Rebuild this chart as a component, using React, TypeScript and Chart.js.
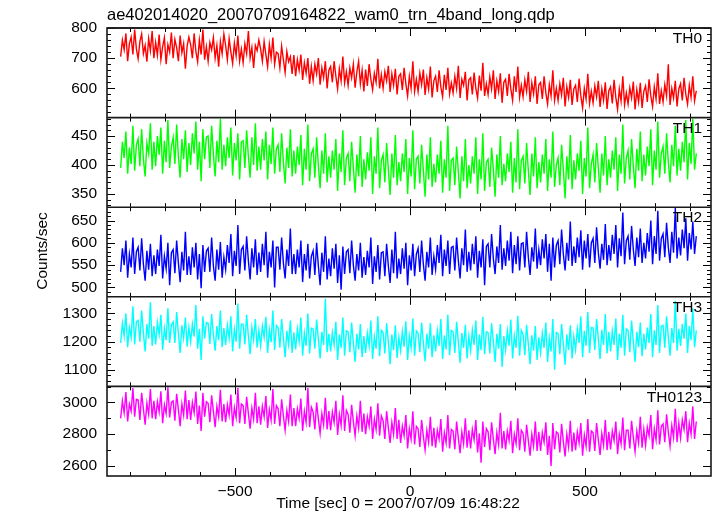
import { useEffect, useRef } from "react";
import { Chart, registerables } from "chart.js";

Chart.register(...registerables);

// ---- data (bins every 5 s starting at -827 s) ----
const T_START = -827;
const T_STEP = 5;

const TH0 = [
  705, 760, 728, 782, 690, 748, 770, 712, 795, 730,
  698, 755, 780, 715, 742, 688, 765, 725, 790, 700,
  752, 710, 778, 695, 738, 768, 680, 745, 720, 785,
  700, 762, 735, 690, 775, 718, 748, 665, 740, 770,
  745, 700, 782, 722, 688, 760, 712, 795, 695, 738,
  690, 752, 728, 768, 700, 742, 672, 755, 715, 780,
  742, 695, 765, 720, 682, 750, 708, 775, 690, 730,
  685, 748, 715, 790, 700, 735, 668, 742, 725, 760,
  730, 690, 755, 712, 672, 745, 700, 768, 680, 720,
  715, 668, 740, 695, 652, 722, 688, 705, 648, 710,
  640, 695, 660, 712, 628, 685, 650, 700, 615, 672,
  625, 680, 648, 700, 612, 668, 635, 690, 600, 660,
  672, 620, 690, 640, 598, 665, 625, 705, 618, 655,
  610, 668, 635, 680, 602, 655, 690, 615, 660, 590,
  662, 608, 680, 630, 595, 650, 620, 698, 600, 645,
  600, 655, 625, 675, 588, 648, 610, 665, 580, 640,
  648, 595, 668, 615, 575, 640, 600, 690, 590, 630,
  590, 650, 612, 662, 578, 635, 598, 672, 570, 625,
  640, 588, 660, 605, 572, 645, 595, 668, 582, 618,
  585, 640, 600, 675, 568, 630, 610, 655, 560, 628,
  635, 580, 652, 600, 568, 642, 592, 685, 575, 615,
  580, 638, 598, 660, 565, 625, 590, 650, 552, 620,
  630, 575, 648, 598, 560, 640, 588, 672, 570, 610,
  572, 628, 590, 655, 555, 618, 582, 640, 548, 612,
  620, 565, 640, 585, 548, 612, 575, 660, 560, 600,
  560, 615, 578, 635, 540, 605, 570, 628, 545, 598,
  610, 555, 632, 575, 535, 600, 565, 648, 550, 590,
  552, 608, 572, 625, 538, 598, 560, 620, 532, 592,
  605, 550, 628, 570, 530, 598, 558, 640, 545, 585,
  548, 602, 568, 622, 530, 595, 555, 618, 535, 590,
  608, 555, 630, 575, 540, 605, 565, 650, 548, 592,
  555, 612, 575, 680, 545, 600, 568, 625, 540, 598,
  615, 560, 635, 580, 548, 610, 570, 640, 558, 592,
];

const TH1 = [
  395, 440, 412, 458, 385, 430, 402, 468, 390, 435,
  445, 398, 462, 410, 380, 438, 420, 472, 392, 440,
  398, 450, 418, 465, 385, 442, 405, 478, 395, 432,
  448, 402, 470, 415, 378, 445, 410, 460, 388, 438,
  400, 455, 420, 475, 392, 440, 372, 462, 410, 448,
  450, 395, 468, 418, 380, 442, 405, 480, 392, 435,
  398, 448, 412, 465, 382, 438, 408, 455, 375, 440,
  442, 395, 460, 415, 378, 448, 400, 472, 390, 432,
  392, 445, 408, 458, 375, 435, 402, 465, 385, 428,
  435, 388, 455, 405, 368, 430, 395, 462, 380, 425,
  385, 432, 400, 452, 365, 428, 392, 470, 372, 420,
  428, 378, 448, 398, 360, 425, 385, 455, 370, 415,
  378, 425, 392, 445, 355, 420, 388, 460, 365, 412,
  420, 372, 440, 395, 352, 418, 380, 450, 362, 410,
  375, 422, 390, 448, 350, 415, 385, 465, 360, 408,
  418, 370, 438, 392, 348, 420, 378, 452, 365, 405,
  372, 420, 388, 445, 350, 412, 380, 460, 358, 410,
  415, 368, 435, 390, 345, 418, 375, 448, 362, 402,
  370, 418, 385, 442, 352, 410, 378, 468, 355, 408,
  412, 365, 432, 388, 342, 415, 372, 445, 360, 400,
  368, 415, 385, 448, 350, 410, 375, 455, 355, 405,
  410, 362, 430, 392, 345, 418, 378, 450, 365, 402,
  372, 420, 388, 440, 352, 412, 370, 462, 358, 408,
  415, 368, 438, 390, 348, 420, 380, 448, 360, 405,
  370, 418, 385, 445, 355, 410, 378, 458, 362, 400,
  412, 365, 435, 392, 342, 415, 375, 452, 358, 408,
  375, 420, 390, 442, 350, 412, 380, 465, 360, 402,
  418, 370, 438, 395, 352, 420, 382, 450, 365, 410,
  378, 425, 392, 448, 355, 418, 385, 470, 368, 412,
  425, 375, 445, 398, 360, 428, 390, 458, 372, 418,
  382, 432, 398, 462, 365, 425, 392, 475, 378, 420,
  432, 385, 455, 405, 370, 435, 398, 468, 382, 428,
  390, 440, 405, 478, 375, 438, 402, 480, 392, 420,
];

const TH2 = [
  535, 588, 550, 605, 522, 575, 545, 612, 530, 580,
  590, 538, 610, 552, 515, 582, 540, 598, 525, 572,
  530, 585, 548, 618, 520, 570, 542, 600, 505, 578,
  585, 532, 605, 555, 512, 580, 538, 625, 528, 570,
  528, 590, 545, 600, 518, 575, 498, 595, 535, 582,
  588, 535, 612, 548, 515, 585, 540, 602, 522, 568,
  540, 595, 555, 620, 525, 582, 548, 640, 530, 585,
  592, 538, 615, 560, 518, 588, 545, 608, 528, 578,
  535, 598, 550, 625, 522, 580, 545, 605, 500, 590,
  590, 540, 612, 555, 520, 585, 548, 632, 530, 575,
  530, 585, 545, 605, 512, 575, 538, 598, 520, 570,
  582, 528, 600, 548, 505, 578, 535, 615, 518, 565,
  525, 588, 542, 598, 510, 572, 495, 592, 530, 580,
  585, 532, 605, 550, 515, 575, 538, 600, 522, 568,
  528, 582, 545, 612, 508, 570, 535, 595, 518, 578,
  580, 525, 598, 548, 510, 585, 532, 625, 520, 565,
  530, 588, 542, 600, 505, 572, 538, 598, 525, 575,
  588, 535, 605, 552, 515, 580, 545, 612, 528, 570,
  540, 595, 555, 618, 525, 585, 548, 605, 530, 590,
  592, 538, 612, 560, 520, 588, 550, 630, 535, 580,
  538, 598, 552, 615, 522, 582, 545, 608, 505, 592,
  598, 545, 620, 565, 530, 592, 555, 640, 540, 588,
  548, 605, 560, 625, 532, 595, 552, 615, 538, 598,
  600, 545, 625, 568, 528, 590, 558, 632, 542, 585,
  550, 608, 565, 620, 535, 598, 515, 612, 545, 595,
  605, 552, 630, 575, 538, 600, 560, 648, 548, 592,
  555, 612, 568, 628, 540, 605, 565, 620, 545, 600,
  610, 555, 635, 578, 542, 598, 562, 642, 550, 595,
  560, 618, 575, 640, 545, 610, 570, 668, 552, 605,
  615, 562, 638, 585, 548, 612, 568, 632, 555, 600,
  565, 622, 580, 650, 552, 615, 575, 672, 560, 610,
  620, 568, 645, 590, 555, 625, 578, 678, 565, 612,
  572, 630, 588, 655, 560, 622, 585, 648, 575, 615,
];

const TH3 = [
  1195, 1265, 1220, 1300, 1180, 1250, 1215, 1325, 1190, 1270,
  1275, 1200, 1310, 1230, 1165, 1262, 1210, 1340, 1185, 1255,
  1190, 1268, 1225, 1295, 1170, 1248, 1205, 1318, 1195, 1260,
  1270, 1195, 1305, 1228, 1160, 1258, 1212, 1285, 1182, 1250,
  1200, 1262, 1218, 1330, 1175, 1245, 1135, 1290, 1210, 1268,
  1265, 1192, 1298, 1225, 1168, 1255, 1205, 1310, 1180, 1248,
  1188, 1258, 1212, 1290, 1165, 1245, 1200, 1335, 1175, 1262,
  1262, 1190, 1295, 1220, 1155, 1250, 1205, 1280, 1178, 1240,
  1185, 1255, 1215, 1288, 1160, 1242, 1198, 1310, 1170, 1258,
  1250, 1178, 1280, 1212, 1145, 1238, 1190, 1275, 1160, 1232,
  1172, 1245, 1200, 1285, 1150, 1230, 1185, 1300, 1158, 1248,
  1245, 1175, 1278, 1208, 1140, 1235, 1188, 1352, 1162, 1228,
  1165, 1232, 1188, 1270, 1135, 1225, 1178, 1285, 1150, 1238,
  1235, 1162, 1268, 1195, 1128, 1228, 1172, 1262, 1145, 1220,
  1160, 1230, 1185, 1275, 1138, 1218, 1175, 1290, 1148, 1240,
  1232, 1158, 1265, 1198, 1120, 1225, 1170, 1258, 1142, 1215,
  1168, 1235, 1182, 1272, 1135, 1220, 1178, 1282, 1150, 1238,
  1230, 1162, 1268, 1195, 1130, 1228, 1175, 1265, 1145, 1222,
  1165, 1238, 1185, 1280, 1138, 1222, 1172, 1295, 1152, 1240,
  1235, 1160, 1270, 1198, 1125, 1230, 1178, 1260, 1140, 1218,
  1168, 1240, 1188, 1275, 1135, 1225, 1170, 1288, 1155, 1235,
  1232, 1158, 1265, 1200, 1128, 1228, 1175, 1262, 1110, 1220,
  1170, 1238, 1185, 1278, 1140, 1222, 1178, 1292, 1150, 1240,
  1225, 1152, 1260, 1190, 1120, 1222, 1168, 1255, 1135, 1215,
  1160, 1230, 1178, 1268, 1128, 1212, 1165, 1280, 1100, 1232,
  1228, 1155, 1262, 1192, 1118, 1225, 1170, 1258, 1140, 1218,
  1172, 1245, 1195, 1290, 1145, 1238, 1185, 1305, 1160, 1250,
  1248, 1170, 1280, 1210, 1138, 1242, 1188, 1298, 1158, 1235,
  1165, 1238, 1188, 1282, 1135, 1228, 1178, 1295, 1150, 1245,
  1240, 1162, 1275, 1200, 1128, 1235, 1180, 1268, 1148, 1228,
  1172, 1250, 1195, 1298, 1145, 1240, 1188, 1330, 1160, 1255,
  1258, 1178, 1290, 1215, 1150, 1248, 1195, 1345, 1168, 1245,
  1185, 1262, 1210, 1300, 1160, 1255, 1205, 1318, 1180, 1240,
];

const TH0123 = [
  2900, 3010, 2935, 3065, 2880, 2990, 2945, 3090, 2910, 3020,
  3015, 2890, 3060, 2960, 2860, 2995, 2925, 3085, 2900, 3010,
  2895, 3005, 2940, 3070, 2870, 2985, 2930, 3095, 2905, 3000,
  3010, 2885, 3055, 2955, 2850, 2990, 2920, 3075, 2895, 3015,
  2890, 3000, 2935, 3068, 2865, 2980, 2820, 3060, 2910, 3005,
  2995, 2875, 3045, 2945, 2845, 2975, 2910, 3080, 2880, 2990,
  2875, 2985, 2920, 3050, 2850, 2968, 2905, 3090, 2870, 2990,
  2980, 2865, 3035, 2930, 2835, 2965, 2895, 3060, 2870, 2975,
  2860, 2975, 2910, 3040, 2840, 2955, 2890, 3085, 2865, 2980,
  2960, 2850, 3020, 2915, 2825, 2950, 2880, 3050, 2850, 2965,
  2850, 2960, 2900, 3025, 2820, 2945, 2875, 3090, 2845, 2970,
  2940, 2830, 3000, 2895, 2805, 2930, 2860, 3030, 2830, 2945,
  2825, 2940, 2875, 3010, 2795, 2925, 2855, 3045, 2820, 2950,
  2925, 2810, 2985, 2880, 2790, 2915, 2840, 3010, 2815, 2930,
  2800, 2910, 2850, 2975, 2770, 2895, 2830, 2995, 2790, 2915,
  2885, 2770, 2945, 2840, 2745, 2875, 2800, 2965, 2770, 2890,
  2745, 2850, 2790, 2920, 2710, 2835, 2770, 2945, 2735, 2850,
  2835, 2720, 2890, 2785, 2700, 2825, 2750, 2910, 2725, 2840,
  2715, 2825, 2770, 2895, 2690, 2810, 2745, 2920, 2710, 2830,
  2820, 2705, 2880, 2775, 2680, 2815, 2740, 2900, 2715, 2825,
  2710, 2830, 2765, 2890, 2685, 2805, 2620, 2880, 2720, 2835,
  2815, 2700, 2875, 2770, 2675, 2810, 2735, 2935, 2710, 2820,
  2705, 2820, 2760, 2885, 2680, 2800, 2740, 2900, 2700, 2825,
  2805, 2690, 2860, 2760, 2665, 2800, 2725, 2880, 2695, 2815,
  2695, 2810, 2750, 2875, 2670, 2790, 2600, 2870, 2705, 2815,
  2805, 2685, 2865, 2755, 2660, 2800, 2720, 2885, 2690, 2810,
  2700, 2815, 2745, 2870, 2665, 2795, 2725, 2895, 2690, 2820,
  2810, 2695, 2870, 2765, 2670, 2805, 2730, 2890, 2700, 2815,
  2705, 2820, 2760, 2880, 2675, 2800, 2740, 2905, 2700, 2825,
  2825, 2710, 2885, 2780, 2690, 2820, 2745, 2910, 2715, 2830,
  2730, 2845, 2790, 2920, 2705, 2835, 2765, 2950, 2735, 2850,
  2865, 2750, 2925, 2815, 2725, 2855, 2780, 2960, 2750, 2870,
  2775, 2890, 2830, 2945, 2750, 2870, 2800, 2975, 2770, 2880,
];

const SERIES = [TH0, TH1, TH2, TH3, TH0123];
const PANEL_NAMES = ["TH0", "TH1", "TH2", "TH3", "TH0123"];
const COLORS = ["#ff0000", "#00ff00", "#0000ff", "#00ffff", "#ff00ff"];
const Y_MIN = [503, 327, 479, 1041, 2537];
const Y_MAX = [800, 482, 680, 1359, 3101];
const Y_TICKS = [
  [600, 700, 800],
  [350, 400, 450],
  [500, 550, 600, 650],
  [1100, 1200, 1300],
  [2600, 2800, 3000],
];
const Y_MINOR = [20, 10, 10, 20, 100];
const X_MIN = -866;
const X_MAX = 860;
const X_TICKS = [-500, 0, 500];
const X_MINOR = 100;

const TITLE = "ae402014020_20070709164822_wam0_trn_4band_long.qdp";
const X_LABEL = "Time [sec] 0 = 2007/07/09 16:48:22";
const Y_LABEL = "Counts/sec";

const FONT_FAMILY = '"Liberation Sans", Arial, Helvetica, sans-serif';

const fmt = (v: number) => (v < 0 ? "\u2212" + Math.abs(v) : String(v));

export default function App() {
  const canvasRef = useRef<HTMLCanvasElement | null>(null);

  useEffect(() => {
    const canvas = canvasRef.current;
    if (!canvas) return;

    const datasets = SERIES.map((vals, k) => ({
      label: PANEL_NAMES[k],
      data: vals.map((v, i) => ({ x: T_START + i * T_STEP, y: v })),
      yAxisID: "y" + k,
      borderColor: COLORS[k],
      backgroundColor: COLORS[k],
      borderWidth: 1.4,
      pointRadius: 0,
      tension: 0,
      fill: false,
    }));

    const scales: any = {
      x: {
        type: "linear",
        position: "bottom",
        min: X_MIN,
        max: X_MAX,
        afterBuildTicks: (s: any) => {
          s.ticks = X_TICKS.map((v) => ({ value: v }));
        },
        afterFit: (s: any) => {
          s.height = 40;
        },
        grid: { display: false, drawTicks: false },
        border: { display: false },
        ticks: {
          color: "#000",
          font: { family: FONT_FAMILY, size: 15.5 },
          padding: 6,
          maxRotation: 0,
          autoSkip: false,
          callback: (v: any) => fmt(Number(v)),
        },
      },
    };

    // defined bottom panel first so that y0 (TH0) ends up on top of the stack
    for (let k = 4; k >= 0; k--) {
      scales["y" + k] = {
        type: "linear",
        position: "left",
        stack: "panels",
        stackWeight: 1,
        min: Y_MIN[k],
        max: Y_MAX[k],
        afterBuildTicks: (s: any) => {
          s.ticks = Y_TICKS[k].map((v) => ({ value: v }));
        },
        afterFit: (s: any) => {
          s.width = 107;
        },
        grid: { display: false, drawTicks: false },
        border: { display: false },
        ticks: {
          color: "#000",
          font: { family: FONT_FAMILY, size: 15.5 },
          padding: 10,
          autoSkip: false,
          callback: (v: any) => fmt(Number(v)),
        },
      };
    }

    const decor = {
      id: "qdpDecor",
      afterDraw(chart: any) {
        const ctx = chart.ctx as CanvasRenderingContext2D;
        const ca = chart.chartArea;
        const xs = chart.scales.x;
        ctx.save();
        ctx.strokeStyle = "#000";
        ctx.fillStyle = "#000";
        ctx.lineWidth = 1;

        const line = (x1: number, y1: number, x2: number, y2: number) => {
          ctx.beginPath();
          ctx.moveTo(x1, y1);
          ctx.lineTo(x2, y2);
          ctx.stroke();
        };

        for (let k = 0; k < 5; k++) {
          const ys = chart.scales["y" + k];
          const top = ys.top;
          const bottom = ys.bottom;
          const i0 = Math.ceil(X_MIN / X_MINOR);
          const i1 = Math.floor(X_MAX / X_MINOR);
          for (let i = i0; i <= i1; i++) {
            const v = i * X_MINOR;
            const px = Math.round(xs.getPixelForValue(v)) + 0.5;
            const len = X_TICKS.includes(v) ? 8 : 4;
            line(px, top, px, top + len);
            line(px, bottom, px, bottom - len);
          }
          const m = Y_MINOR[k];
          const j0 = Math.ceil(Y_MIN[k] / m);
          const j1 = Math.floor(Y_MAX[k] / m);
          for (let j = j0; j <= j1; j++) {
            const v = j * m;
            const py = Math.round(ys.getPixelForValue(v)) + 0.5;
            const len = Y_TICKS[k].includes(v) ? 8 : 4;
            line(ca.left, py, ca.left + len, py);
            line(ca.right, py, ca.right - len, py);
          }
          ctx.font = `15.5px ${FONT_FAMILY}`;
          ctx.textAlign = "right";
          ctx.textBaseline = "middle";
          ctx.fillText(PANEL_NAMES[k], ca.right - 9, top + 11);
        }

        ctx.lineWidth = 1.6;
        ctx.strokeStyle = "#1a1a1a";
        ctx.strokeRect(ca.left, ca.top, ca.right - ca.left, ca.bottom - ca.top);
        for (let k = 0; k < 5; k++) {
          const ys = chart.scales["y" + k];
          line(ca.left, ys.top, ca.right, ys.top);
        }

        ctx.fillStyle = "#000";
        ctx.font = `16.5px ${FONT_FAMILY}`;
        ctx.textAlign = "left";
        ctx.textBaseline = "middle";
        ctx.fillText(TITLE, ca.left, 15);

        ctx.font = `15.5px ${FONT_FAMILY}`;
        ctx.textAlign = "center";
        ctx.fillText(X_LABEL, 398, 504);

        ctx.save();
        ctx.translate(43, 251);
        ctx.rotate(-Math.PI / 2);
        ctx.fillText(Y_LABEL, 0, 0);
        ctx.restore();

        ctx.restore();
      },
    };

    const chart = new Chart(canvas, {
      type: "line",
      data: { datasets },
      options: {
        animation: false,
        responsive: true,
        maintainAspectRatio: false,
        parsing: false as any,
        normalized: true,
        layout: { padding: { top: 28, right: 6, left: 0, bottom: 0 } },
        plugins: {
          legend: { display: false },
          tooltip: { enabled: false },
          title: { display: false },
        },
        scales,
      },
      plugins: [decor],
    });

    return () => chart.destroy();
  }, []);

  return (
    <div
      style={{
        position: "fixed",
        left: 0,
        top: 0,
        width: 717,
        height: 516,
        background: "#fff",
      }}
    >
      <canvas ref={canvasRef} />
    </div>
  );
}
